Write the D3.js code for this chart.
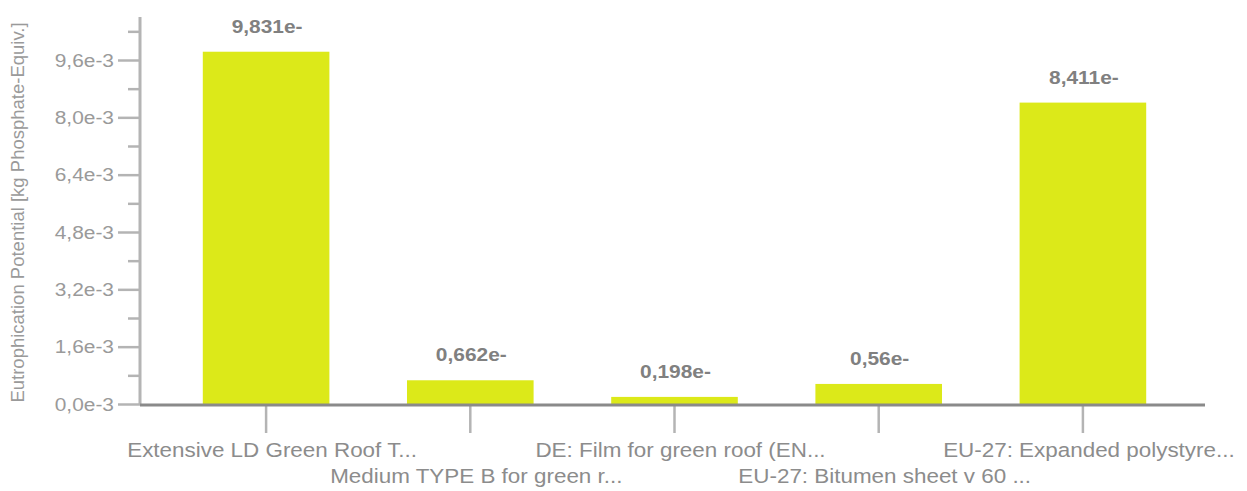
<!DOCTYPE html>
<html>
<head>
<meta charset="utf-8">
<script src="https://cdn.jsdelivr.net/npm/d3@7"></script>
<style>
  html, body { margin: 0; padding: 0; background: #ffffff; }
  svg { display: block; font-family: "Liberation Sans", Arial, sans-serif; }
</style>
</head>
<body>
<svg id="chart" width="1247" height="491"></svg>
<script>
const categories = [
  "Extensive LD Green Roof T...",
  "Medium TYPE B for green r...",
  "DE: Film for green roof (EN...",
  "EU-27: Bitumen sheet v 60 ...",
  "EU-27: Expanded polystyre..."
];
const values = [9.831e-3, 0.662e-3, 0.198e-3, 0.56e-3, 8.411e-3];
const valueLabels = ["9,831e-", "0,662e-", "0,198e-", "0,56e-", "8,411e-"];
const majorTicks = [0, 1.6e-3, 3.2e-3, 4.8e-3, 6.4e-3, 8.0e-3, 9.6e-3];
const majorTickLabels = ["0,0e-3", "1,6e-3", "3,2e-3", "4,8e-3", "6,4e-3", "8,0e-3", "9,6e-3"];
const minorTicks = [0.8e-3, 2.4e-3, 4.0e-3, 5.6e-3, 7.2e-3, 8.8e-3, 10.4e-3];
const yTitle = "Eutrophication Potential [kg Phosphate-Equiv.]";

const svg = d3.select("#chart");
const axisX = 140, axisYbottom = 404, axisTop = 17, xEnd = 1205;
const sx = 1.1; // horizontal text stretch

const y = d3.scaleLinear().domain([0, 10.8e-3]).range([axisYbottom, axisTop]);
const x = d3.scaleBand().domain(categories).range([164, 1185]).paddingInner(0.38).paddingOuter(0.19);

// bars
svg.append("g").selectAll("rect").data(values).join("rect")
  .attr("x", (d, i) => x(categories[i]))
  .attr("width", x.bandwidth())
  .attr("y", d => y(d))
  .attr("height", d => y(0) - y(d))
  .attr("fill", "#dce919");

// value labels
svg.append("g").selectAll("text").data(values).join("text")
  .attr("transform", (d, i) => `translate(${x(categories[i]) + x.bandwidth() / 2 + 1},${y(d) - 19}) scale(${sx},1)`)
  .attr("text-anchor", "middle")
  .attr("font-size", 19)
  .attr("font-weight", "bold")
  .attr("fill", "#808080")
  .text((d, i) => valueLabels[i]);

// y axis
const yAxisMajor = d3.axisLeft(y).tickValues(majorTicks).tickSize(22).tickPadding(4)
  .tickFormat((d, i) => majorTickLabels[i]);
const gy = svg.append("g").attr("transform", `translate(${axisX},0)`).call(yAxisMajor);
gy.select(".domain").remove();
gy.selectAll(".tick line").attr("stroke", "#b4b4b4").attr("stroke-width", 2.5);
gy.selectAll(".tick text")
  .attr("font-size", 19).attr("fill", "#9a9a9a")
  .attr("font-family", "Liberation Sans, Arial, sans-serif")
  .each(function () {
    const t = d3.select(this);
    const xx = +t.attr("x");
    t.attr("transform", `translate(${xx},0) scale(${sx},1)`).attr("x", 0);
  });

const yAxisMinor = d3.axisLeft(y).tickValues(minorTicks).tickSize(12).tickFormat("");
const gym = svg.append("g").attr("transform", `translate(${axisX},0)`).call(yAxisMinor);
gym.select(".domain").remove();
gym.selectAll(".tick line").attr("stroke", "#b4b4b4").attr("stroke-width", 2.5);

svg.append("line")
  .attr("x1", axisX).attr("x2", axisX)
  .attr("y1", axisTop).attr("y2", axisYbottom)
  .attr("stroke", "#b4b4b4").attr("stroke-width", 3);

// x axis
const xAxis = d3.axisBottom(x).tickSize(28).tickFormat("");
const gx = svg.append("g").attr("transform", `translate(0,${axisYbottom + 1})`).call(xAxis);
gx.select(".domain").remove();
gx.selectAll(".tick line").attr("stroke", "#b4b4b4").attr("stroke-width", 2.5);

svg.append("line")
  .attr("x1", axisX).attr("x2", xEnd)
  .attr("y1", axisYbottom + 1).attr("y2", axisYbottom + 1)
  .attr("stroke", "#8a8a8a").attr("stroke-width", 3);

// category labels (alternating rows)
svg.append("g").selectAll("text").data(categories).join("text")
  .attr("transform", (d, i) => `translate(${x(d) + x.bandwidth() / 2 + 6},${i % 2 === 0 ? 457 : 483}) scale(1.15,1)`)
  .attr("text-anchor", "middle")
  .attr("font-size", 19.5)
  .attr("fill", "#8c8c8c")
  .text(d => d);

// y title
svg.append("text")
  .attr("transform", `translate(24,${(axisTop + axisYbottom) / 2 + 2}) rotate(-90)`)
  .attr("text-anchor", "middle")
  .attr("font-size", 18.5)
  .attr("fill", "#9a9a9a")
  .text(yTitle);
</script>
</body>
</html>
